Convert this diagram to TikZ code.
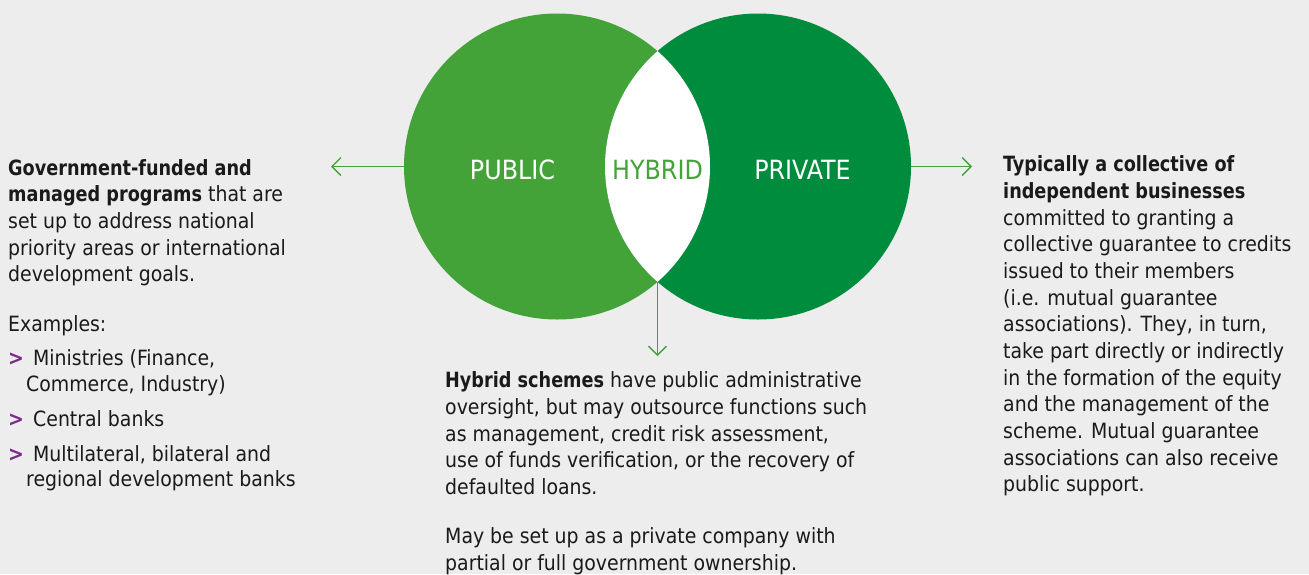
\documentclass[tikz,border=0pt]{standalone}
\usepackage{fontspec}
\usepackage{graphicx}
\setmainfont{DejaVu Sans Condensed}
\usetikzlibrary{arrows.meta}
\definecolor{bg}{HTML}{EDEDED}
\definecolor{lgreen}{HTML}{43A338}
\definecolor{dgreen}{HTML}{008C3D}
\definecolor{ink}{HTML}{1A1A1A}
\definecolor{bulletc}{HTML}{7D2B8B}
\newcommand{\bfn}[1]{\scalebox{0.935}[1]{\textbf{#1}}}
\begin{document}
\begin{tikzpicture}[x=1pt,y=-1pt,
  txt/.style={anchor=base west,inner sep=0pt,text=ink,font=\fontsize{21}{26.67}\selectfont},
  lbl/.style={anchor=base,inner sep=0pt,font=\fontsize{26.5}{30}\selectfont},
  bul/.style={anchor=base west,inner sep=0pt,text=bulletc,font=\fontsize{21}{26.67}\selectfont\bfseries},
  arr/.style={draw=lgreen,line width=1.3pt,-{Straight Barb[length=9pt,width=18pt,line width=1.3pt]}},
  disc/.style={circle,inner sep=0pt,minimum size=306pt}]
\fill[bg] (0,0) rectangle (1309,574);
\useasboundingbox (0,0) rectangle (1309,574);
% circles
\node[disc,fill=lgreen] (pub) at (557,166.5) {};
\node[disc,fill=dgreen] (pri) at (758,166.5) {};
\begin{scope}
  \clip (557,166.5) circle[radius=153];
  \fill[white] (758,166.5) circle[radius=153];
\end{scope}
% labels
\node[lbl,text=white] (lpub) at (512.5,179) {PUBLIC};
\node[lbl,text=lgreen] (lhyb) at (657.5,179) {HYBRID};
\node[lbl,text=white] (lpri) at (802.5,179) {PRIVATE};
% arrow end points
\coordinate (lt) at (331,166.5);
\coordinate (rt) at (972,166.5);
\coordinate (lb) at (657.5,281.9);
\coordinate (bt) at (657.5,356);
\draw[arr] (pub.west) -- (lt);
\draw[arr] (pri.east) -- (rt);
\draw[arr] (lb) -- (bt);
% left text
\node[txt] (l1) at (8,175) {\bfn{Government-funded and}};
\node[txt] (l2) at (8,201.7) {\bfn{managed programs} that are};
\node[txt] (l3) at (8,228.3) {set up to address national};
\node[txt] (l4) at (8,255) {priority areas or international};
\node[txt] (l5) at (8,281.7) {development goals.};
\node[txt] (l6) at (8,331.7) {Examples:};
\node[bul] (b1) at (8,365) {>};
\node[txt] (l7) at (33,365) {Ministries (Finance,};
\node[txt] (l8) at (26,391.7) {Commerce, Industry)};
\node[bul] (b2) at (8,426) {>};
\node[txt] (l9) at (33,426) {Central banks};
\node[bul] (b3) at (8,461.7) {>};
\node[txt] (l10) at (33,461.7) {Multilateral, bilateral and};
\node[txt] (l11) at (26,486.7) {regional development banks};
% middle text
\node[txt] (m1) at (445,387.7) {\bfn{Hybrid schemes} have public administrative};
\node[txt] (m2) at (445,414.3) {oversight, but may outsource functions such};
\node[txt] (m3) at (445,441) {as management, credit risk assessment,};
\node[txt] (m4) at (445,467.7) {use of funds verification, or the recovery of};
\node[txt] (m5) at (445,494.3) {defaulted loans.};
\node[txt] (m6) at (445,543.3) {May be set up as a private company with};
\node[txt] (m7) at (445,570) {partial or full government ownership.};
% right text
\node[txt] (r1) at (1003,171.7) {\bfn{Typically a collective of}};
\node[txt] (r2) at (1003,198.4) {\bfn{independent businesses}};
\node[txt] (r3) at (1003,225) {committed to granting a};
\node[txt] (r4) at (1003,251.7) {collective guarantee to credits};
\node[txt] (r5) at (1003,278.4) {issued to their members};
\node[txt] (r6) at (1003,305) {(i.e. mutual guarantee};
\node[txt] (r7) at (1003,331.7) {associations). They, in turn,};
\node[txt] (r8) at (1003,358.4) {take part directly or indirectly};
\node[txt] (r9) at (1003,385) {in the formation of the equity};
\node[txt] (r10) at (1003,411.7) {and the management of the};
\node[txt] (r11) at (1003,438.4) {scheme. Mutual guarantee};
\node[txt] (r12) at (1003,465) {associations can also receive};
\node[txt] (r13) at (1003,491.7) {public support.};
\end{tikzpicture}
\end{document}
